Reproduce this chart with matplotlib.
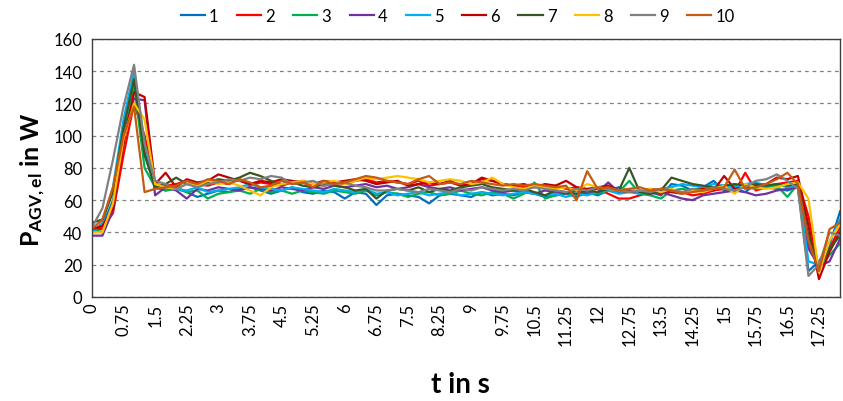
"""Power draw of the AGV over ten runs (line chart, headless)."""

import matplotlib

matplotlib.use("Agg")  # headless
import matplotlib.pyplot as plt  # noqa: E402
import numpy as np  # noqa: E402

plt.rcParams.update(
    {
        "font.family": "Lato",
        "font.size": 12,
        "mathtext.fontset": "custom",
        "mathtext.rm": "Lato:bold",
        "mathtext.it": "Lato:bold",
        "mathtext.bf": "Lato:bold",
    }
)

# sample times (0.25 s steps), one value per run and time
time_s = np.arange(0, 18, 0.25)

run_1 = [40, 44, 60, 95, 138, 90, 68, 66, 68, 65, 62, 64, 66, 65, 67, 68, 66, 64, 66, 68,
         65, 64, 66, 65, 61, 65, 64, 57, 63, 64, 63, 62, 58, 63, 64, 63, 62, 65, 63, 64,
         63, 65, 64, 62, 63, 64, 62, 65, 63, 66, 68, 66, 64, 65, 63, 70, 69, 66, 68, 72,
         66, 67, 65, 70, 68, 67, 66, 68, 16, 22, 32, 53]
run_2 = [42, 42, 52, 88, 120, 100, 70, 69, 70, 72, 70, 69, 71, 70, 73, 69, 71, 70, 69, 71,
         72, 70, 69, 71, 70, 72, 73, 71, 72, 71, 70, 72, 69, 70, 71, 69, 70, 73, 72, 70,
         69, 68, 70, 68, 69, 67, 68, 66, 67, 64, 61, 61, 63, 65, 64, 66, 65, 63, 64, 66,
         67, 65, 77, 66, 68, 70, 71, 72, 50, 17, 30, 43]
run_3 = [42, 40, 55, 100, 132, 80, 68, 66, 67, 65, 66, 61, 64, 65, 66, 64, 67, 65, 66, 64,
         66, 65, 64, 66, 65, 64, 66, 63, 65, 64, 62, 64, 65, 63, 64, 66, 64, 63, 65, 64,
         61, 64, 71, 61, 63, 64, 63, 65, 64, 66, 65, 72, 64, 63, 61, 66, 67, 66, 68, 67,
         68, 69, 68, 67, 68, 69, 62, 70, 32, 18, 26, 33]
run_4 = [38, 38, 54, 100, 123, 122, 63, 68, 66, 61, 67, 66, 68, 67, 66, 68, 67, 66, 68, 67,
         66, 68, 67, 69, 68, 69, 70, 68, 69, 67, 68, 70, 68, 67, 68, 66, 67, 68, 66, 65,
         66, 65, 64, 66, 65, 64, 66, 64, 65, 71, 65, 66, 65, 64, 65, 63, 61, 60, 63, 64,
         65, 66, 65, 63, 64, 66, 67, 68, 30, 19, 22, 36]
run_5 = [40, 46, 68, 110, 140, 95, 70, 68, 67, 66, 68, 65, 66, 67, 68, 70, 68, 67, 66, 68,
         67, 66, 65, 67, 66, 65, 67, 64, 65, 63, 64, 65, 63, 64, 65, 63, 64, 65, 64, 63,
         64, 65, 64, 63, 64, 62, 64, 63, 65, 66, 64, 65, 64, 66, 67, 68, 70, 69, 68, 70,
         69, 68, 70, 71, 69, 70, 68, 69, 22, 20, 34, 48]
run_6 = [42, 44, 55, 95, 127, 124, 70, 77, 68, 73, 71, 72, 76, 74, 72, 70, 72, 71, 73, 72,
         71, 70, 72, 71, 72, 73, 72, 70, 71, 72, 69, 70, 71, 70, 72, 69, 70, 74, 72, 70,
         69, 70, 68, 70, 69, 72, 68, 67, 68, 69, 66, 65, 66, 67, 66, 65, 64, 66, 67, 66,
         75, 67, 68, 69, 70, 74, 73, 75, 44, 11, 28, 40]
run_7 = [46, 48, 65, 105, 135, 88, 68, 70, 74, 70, 69, 71, 73, 72, 74, 77, 75, 72, 70, 71,
         69, 68, 70, 69, 68, 66, 67, 61, 66, 67, 66, 68, 65, 67, 66, 68, 69, 70, 68, 67,
         66, 67, 65, 63, 66, 65, 64, 66, 65, 67, 66, 80, 65, 64, 66, 74, 72, 70, 69, 68,
         69, 70, 69, 70, 69, 70, 69, 70, 38, 18, 30, 38]
run_8 = [40, 40, 58, 98, 120, 110, 70, 68, 67, 70, 69, 72, 70, 71, 69, 66, 63, 68, 70, 71,
         72, 70, 71, 72, 70, 72, 74, 73, 74, 75, 74, 73, 71, 72, 73, 72, 70, 71, 74, 70,
         68, 67, 69, 68, 67, 68, 66, 70, 68, 67, 66, 67, 66, 67, 65, 67, 64, 66, 65, 67,
         69, 64, 70, 68, 67, 68, 70, 71, 61, 15, 35, 45]
run_9 = [43, 55, 85, 118, 144, 95, 72, 70, 67, 70, 68, 70, 71, 73, 72, 74, 73, 75, 74, 70,
         71, 72, 69, 70, 71, 69, 68, 66, 66, 67, 66, 65, 67, 66, 65, 67, 66, 68, 67, 66,
         67, 66, 68, 67, 66, 65, 67, 66, 68, 67, 66, 65, 66, 65, 67, 66, 65, 67, 66, 68,
         67, 66, 68, 72, 73, 76, 72, 67, 13, 20, 40, 38]
run_10 = [42, 48, 68, 100, 118, 65, 67, 68, 69, 72, 70, 73, 72, 70, 73, 71, 68, 69, 72, 70,
          71, 68, 72, 70, 71, 73, 75, 74, 72, 71, 70, 73, 75, 70, 71, 70, 72, 71, 70, 69,
          70, 69, 70, 69, 68, 69, 60, 78, 67, 68, 66, 67, 68, 66, 67, 66, 64, 65, 66, 67,
          68, 79, 67, 68, 70, 73, 77, 70, 35, 16, 42, 46]

runs = [run_1, run_2, run_3, run_4, run_5, run_6, run_7, run_8, run_9, run_10]
run_labels = ["1", "2", "3", "4", "5", "6", "7", "8", "9", "10"]
colors = ["#0070C0", "#FF0000", "#00B050", "#7030A0", "#00B0F0",
          "#C00000", "#375623", "#FFC000", "#808080", "#C55A11"]

fig = plt.figure(figsize=(8.43, 4.02), dpi=100)
ax = fig.add_axes([0.109, 0.259, 0.8875, 0.6415])

idx = np.arange(len(time_s))
for vals, lab, col in zip(runs, run_labels, colors):
    ax.plot(idx, vals, color=col, lw=1.6, label=lab)

ax.set_xlim(0, len(time_s) - 1)
ax.set_ylim(0, 160)
ax.set_yticks(range(0, 161, 20))
ax.yaxis.grid(True, color="#808080", lw=0.9, linestyle=(0, (3, 3)))
ax.set_axisbelow(True)

# category-style axis: every third sample gets a label
ax.set_xticks(idx[::3])
ax.set_xticklabels([f"{t:g}" for t in time_s[::3]], rotation=90, va="top")
ax.tick_params(axis="x", length=0, pad=4)
ax.tick_params(axis="y", length=0, pad=7)
for s in ax.spines.values():
    s.set_color("#404040")
    s.set_linewidth(1.0)

fig.text(0.040, 0.552, r"P$_{\mathrm{AGV,el}}$ in W", rotation=90, ha="center",
         va="center", fontsize=18, fontweight="bold")
fig.text(0.546, 0.042, "t in s", ha="center", va="center", fontsize=20,
         fontweight="bold")

fig.legend(loc="center", bbox_to_anchor=(0.543, 0.957), ncol=10, frameon=False,
           handlelength=1.45, handletextpad=0.25, columnspacing=1.1, fontsize=12)

fig.savefig("out.png", dpi=100)
